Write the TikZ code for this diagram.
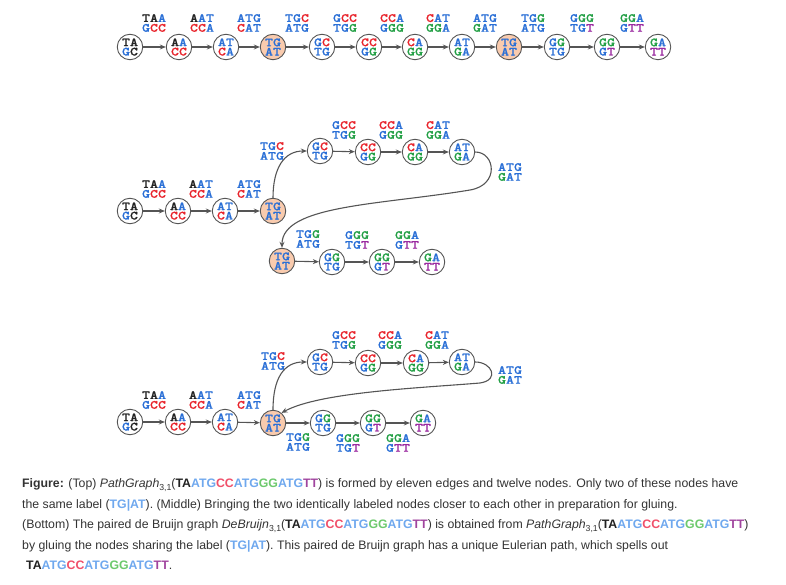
\documentclass[tikz,border=0pt]{standalone}
\usepackage{fontspec}
\setmainfont{Liberation Sans}
\newfontfamily\dnafont{lmmonolt10-bold.otf}[FakeStretch=1.22,FakeBold=0.8]
\usetikzlibrary{arrows.meta}
\definecolor{cb}{HTML}{2A6FD6}
\definecolor{cr}{HTML}{E8232B}
\definecolor{cg}{HTML}{24A046}
\definecolor{cp}{HTML}{9A2AA0}
\definecolor{ck}{HTML}{222222}
\definecolor{lb}{HTML}{6FA8EE}
\definecolor{lr}{HTML}{F0506A}
\definecolor{lg}{HTML}{6DC96D}
\definecolor{lp}{HTML}{A0449E}
\definecolor{capt}{HTML}{333333}
\definecolor{edgec}{HTML}{555555}
\definecolor{fillc}{HTML}{F9CBAE}
\newcommand\cB[1]{\textcolor{cb}{#1}}
\newcommand\cR[1]{\textcolor{cr}{#1}}
\newcommand\cG[1]{\textcolor{cg}{#1}}
\newcommand\cP[1]{\textcolor{cp}{#1}}
\newcommand\cK[1]{\textcolor{ck}{#1}}
% node labels
\newcommand\dnA{\cK{TA}\\\cB{G}\cK{C}}
\newcommand\dnB{\cK{A}\cB{A}\\\cR{CC}}
\newcommand\dnC{\cB{AT}\\\cR{C}\cB{A}}
\newcommand\dnD{\cB{TG}\\\cB{AT}}
\newcommand\dnE{\cB{G}\cR{C}\\\cB{TG}}
\newcommand\dnF{\cR{CC}\\\cB{G}\cG{G}}
\newcommand\dnG{\cR{C}\cB{A}\\\cG{GG}}
\newcommand\dnH{\cB{AT}\\\cG{G}\cB{A}}
\newcommand\dnJ{\cB{G}\cG{G}\\\cB{TG}}
\newcommand\dnK{\cG{GG}\\\cB{G}\cP{T}}
\newcommand\dnL{\cG{G}\cB{A}\\\cP{TT}}
% edge labels
\newcommand\ebA{\cK{TA}\cB{A}\\\cB{G}\cR{CC}}
\newcommand\ebB{\cK{A}\cB{AT}\\\cR{CC}\cB{A}}
\newcommand\ebC{\cB{ATG}\\\cR{C}\cB{AT}}
\newcommand\ebD{\cB{TG}\cR{C}\\\cB{ATG}}
\newcommand\ebE{\cB{G}\cR{CC}\\\cB{TG}\cG{G}}
\newcommand\ebF{\cR{CC}\cB{A}\\\cB{G}\cG{GG}}
\newcommand\ebG{\cR{C}\cB{AT}\\\cG{GG}\cB{A}}
\newcommand\ebH{\cB{ATG}\\\cG{G}\cB{AT}}
\newcommand\ebJ{\cB{TG}\cG{G}\\\cB{ATG}}
\newcommand\ebK{\cB{G}\cG{GG}\\\cB{TG}\cP{T}}
\newcommand\ebL{\cG{GG}\cB{A}\\\cB{G}\cP{TT}}
% caption helpers
\newcommand\capdna{\textbf{\textcolor{ck}{TA}\textcolor{lb}{ATG}\textcolor{lr}{CC}\textcolor{lb}{ATG}\textcolor{lg}{GG}\textcolor{lb}{ATG}\textcolor{lp}{TT}}}
\newcommand\capsub[1]{\raisebox{-0.4ex}{\fontsize{8.7}{8.7}\selectfont #1}}
\newcommand\caplab{\textbf{\textcolor{lb}{TG|AT}}}
\begin{document}
\begin{tikzpicture}[x=1pt,y=-1pt,
  dn/.style={circle, draw=edgec, line width=0.9pt, minimum size=25.5pt, inner sep=0pt,
    align=center, fill=white, font=\dnafont\fontsize{12.5}{9.3}\selectfont},
  hub/.style={dn, fill=fillc},
  el/.style={align=center, inner sep=0pt, font=\dnafont\fontsize{12.5}{9.8}\selectfont},
  ar/.style={draw=edgec, line width=1.1pt, -{Stealth[length=6pt,width=5pt]}},
  capline/.style={anchor=base west, inner sep=0pt, text=capt, font=\fontsize{12.3}{14}\selectfont}]
\useasboundingbox (0,0) rectangle (786,585);
% ---------------- top row
\node[dn]  (t1)  at (130,47) {\dnA};
\node[dn]  (t2)  at (179,47) {\dnB};
\node[dn]  (t3)  at (226,47) {\dnC};
\node[hub] (t4)  at (273,47) {\dnD};
\node[dn]  (t5)  at (322,47) {\dnE};
\node[dn]  (t6)  at (369,47) {\dnF};
\node[dn]  (t7)  at (415,47) {\dnG};
\node[dn]  (t8)  at (462,47) {\dnH};
\node[hub] (t9)  at (509,47) {\dnD};
\node[dn]  (t10) at (557,47) {\dnJ};
\node[dn]  (t11) at (607,47) {\dnK};
\node[dn]  (t12) at (658,47) {\dnL};
\node[el] (tl1)  at (154,23) {\ebA};
\node[el] (tl2)  at (202,23) {\ebB};
\node[el] (tl3)  at (249,23) {\ebC};
\node[el] (tl4)  at (297,23) {\ebD};
\node[el] (tl5)  at (345,23) {\ebE};
\node[el] (tl6)  at (392,23) {\ebF};
\node[el] (tl7)  at (438,23) {\ebG};
\node[el] (tl8)  at (485,23) {\ebH};
\node[el] (tl9)  at (533,23) {\ebJ};
\node[el] (tl10) at (582,23) {\ebK};
\node[el] (tl11) at (632,23) {\ebL};
\foreach \a/\b in {t1/t2,t2/t3,t3/t4,t4/t5,t5/t6,t6/t7,t7/t8,t8/t9,t9/t10,t10/t11,t11/t12}
  \draw[ar] (\a) -- (\b);
% ---------------- middle
\node[dn]  (m1)  at (130,211) {\dnA};
\node[dn]  (m2)  at (178,211) {\dnB};
\node[dn]  (m3)  at (225,211) {\dnC};
\node[hub] (m4)  at (273,211) {\dnD};
\node[dn]  (m5)  at (320,151) {\dnE};
\node[dn]  (m6)  at (368,152) {\dnF};
\node[dn]  (m7)  at (415,152) {\dnG};
\node[dn]  (m8)  at (462,152) {\dnH};
\node[hub] (m9)  at (282,261) {\dnD};
\node[dn]  (m10) at (332,262) {\dnJ};
\node[dn]  (m11) at (382,262) {\dnK};
\node[dn]  (m12) at (432,262) {\dnL};
\node[el] (ml1)  at (154,189) {\ebA};
\node[el] (ml2)  at (201,189) {\ebB};
\node[el] (ml3)  at (249,189) {\ebC};
\node[el] (ml4)  at (272,151) {\ebD};
\node[el] (ml5)  at (344,130) {\ebE};
\node[el] (ml6)  at (391,130) {\ebF};
\node[el] (ml7)  at (438,130) {\ebG};
\node[el] (ml8)  at (510,172) {\ebH};
\node[el] (ml9)  at (308,239) {\ebJ};
\node[el] (ml10) at (357,240) {\ebK};
\node[el] (ml11) at (407,240) {\ebL};
\foreach \a/\b in {m1/m2,m2/m3,m3/m4,m5/m6,m6/m7,m7/m8,m9/m10,m10/m11,m11/m12}
  \draw[ar] (\a) -- (\b);
\draw[ar] (m4.north) .. controls (273,168) and (284,151) .. (m5.west);
\draw[ar] (m8.east) .. controls (495,152) and (500,185) .. (470,190)
   .. controls (380,205) and (282,205) .. (m9.north);
% ---------------- bottom
\node[dn]  (b1)  at (130,422) {\dnA};
\node[dn]  (b2)  at (178,422) {\dnB};
\node[dn]  (b3)  at (225,422) {\dnC};
\node[hub] (b4)  at (273,423) {\dnD};
\node[dn]  (b5)  at (320,362) {\dnE};
\node[dn]  (b6)  at (368,363) {\dnF};
\node[dn]  (b7)  at (416,363) {\dnG};
\node[dn]  (b8)  at (462,362) {\dnH};
\node[dn]  (b10) at (323,423) {\dnJ};
\node[dn]  (b11) at (373,423) {\dnK};
\node[dn]  (b12) at (423,423) {\dnL};
\node[el] (bl1)  at (154,400) {\ebA};
\node[el] (bl2)  at (201,400) {\ebB};
\node[el] (bl3)  at (249,400) {\ebC};
\node[el] (bl4)  at (273,361) {\ebD};
\node[el] (bl5)  at (344,340) {\ebE};
\node[el] (bl6)  at (390,340) {\ebF};
\node[el] (bl7)  at (437,340) {\ebG};
\node[el] (bl8)  at (510,375) {\ebH};
\node[el] (bl9)  at (298,442) {\ebJ};
\node[el] (bl10) at (348,443) {\ebK};
\node[el] (bl11) at (398,443) {\ebL};
\foreach \a/\b in {b1/b2,b2/b3,b3/b4,b5/b6,b6/b7,b7/b8,b4/b10,b10/b11,b11/b12}
  \draw[ar] (\a) -- (\b);
\draw[ar] (b4.north) .. controls (273,378) and (284,362) .. (b5.west);
\draw[ar] (b8.east) .. controls (492,362) and (500,380) .. (480,383)
   .. controls (420,388) and (320,392) .. (b4.50);
% ---------------- caption
\node[capline] (c1) at (22,487.5) {\textbf{Figure:} (Top) \textit{PathGraph}\capsub{3,1}(\capdna) is formed by eleven edges and twelve nodes. Only two of these nodes have};
\node[capline] (c2) at (22,508.1) {the same label (\caplab). (Middle) Bringing the two identically labeled nodes closer to each other in preparation for gluing.};
\node[capline] (c3) at (22,528.7) {(Bottom) The paired de Bruijn graph \textit{DeBruijn}\capsub{3,1}(\capdna) is obtained from \textit{PathGraph}\capsub{3,1}(\capdna)};
\node[capline] (c4) at (22,549.3) {by gluing the nodes sharing the label (\caplab). This paired de Bruijn graph has a unique Eulerian path, which spells out};
\node[capline] (c5) at (26,569.9) {\capdna.};
\end{tikzpicture}
\end{document}
